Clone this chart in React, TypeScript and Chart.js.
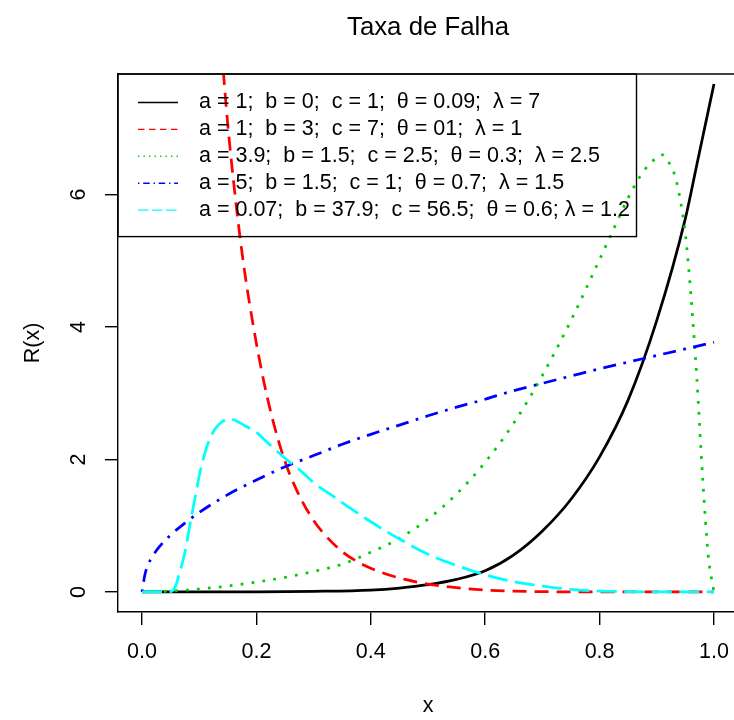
import React, { useEffect, useRef } from "react";
import { Chart, registerables } from "chart.js";

Chart.register(...registerables);

// ---- text ----
const TITLE = "Taxa de Falha";
const X_LABEL = "x";
const Y_LABEL = "R(x)";

const xTicks = [0, 0.2, 0.4, 0.6, 0.8, 1.0];
const xTickLabels = ["0.0", "0.2", "0.4", "0.6", "0.8", "1.0"];
const yTicks = [0, 2, 4, 6];
const yTickLabels = ["0", "2", "4", "6"];

const seriesLabels = [
  "a = 1;  b = 0;  c = 1;  θ = 0.09;  λ = 7",
  "a = 1;  b = 3;  c = 7;  θ = 01;  λ = 1",
  "a = 3.9;  b = 1.5;  c = 2.5;  θ = 0.3;  λ = 2.5",
  "a = 5;  b = 1.5;  c = 1;  θ = 0.7;  λ = 1.5",
  "a = 0.07;  b = 37.9;  c = 56.5;  θ = 0.6; λ = 1.2",
];

// ---- hazard curves R(x) ----
const xBlack = [0, 0.1, 0.2, 0.3, 0.4, 0.45, 0.5, 0.55, 0.6, 0.65, 0.7, 0.75, 0.8, 0.85, 0.9, 0.95, 0.97, 1.0];
const yBlack = [0, 0, 0.002, 0.01, 0.03, 0.06, 0.11, 0.19, 0.32, 0.56, 0.92, 1.4, 2.04, 2.9, 4.1, 5.64, 6.45, 7.67];

const xRed = [0.1, 0.12, 0.13, 0.14, 0.15, 0.16, 0.17, 0.18, 0.19, 0.2, 0.21, 0.22, 0.23, 0.24, 0.25, 0.26, 0.28, 0.3, 0.32, 0.35, 0.38, 0.42, 0.46, 0.5, 0.55, 0.6, 0.65, 0.7, 0.8, 0.9, 1.0];
const yRed = [14.5, 10.7, 9.3, 8.1, 7.05, 6.2, 5.45, 4.8, 4.25, 3.75, 3.3, 2.9, 2.55, 2.24, 1.97, 1.74, 1.37, 1.08, 0.86, 0.61, 0.44, 0.29, 0.19, 0.12, 0.065, 0.03, 0.013, 0.005, 0.001, 0, 0];

const xGreen = [0, 0.05, 0.1, 0.15, 0.2, 0.25, 0.3, 0.35, 0.4, 0.45, 0.5, 0.55, 0.6, 0.65, 0.7, 0.75, 0.8, 0.825, 0.85, 0.875, 0.9, 0.91, 0.92, 0.93, 0.94, 0.95, 0.96, 0.97, 0.98, 0.99, 1.0];
const yGreen = [0, 0.015, 0.045, 0.09, 0.15, 0.22, 0.31, 0.42, 0.6, 0.81, 1.1, 1.48, 1.96, 2.55, 3.27, 4.1, 5.02, 5.49, 5.95, 6.33, 6.56, 6.6, 6.5, 6.33, 5.97, 5.4, 4.44, 3.23, 1.75, 0.55, 0];

const xBlue = [0, 0.005, 0.01, 0.02, 0.03, 0.05, 0.075, 0.1, 0.15, 0.2, 0.25, 0.3, 0.35, 0.4, 0.45, 0.5, 0.55, 0.6, 0.65, 0.7, 0.75, 0.8, 0.85, 0.9, 0.95, 1.0];
const yBlue = [0, 0.26, 0.4, 0.56, 0.68, 0.86, 1.04, 1.2, 1.47, 1.69, 1.89, 2.06, 2.23, 2.38, 2.52, 2.66, 2.79, 2.91, 3.04, 3.15, 3.26, 3.37, 3.47, 3.57, 3.67, 3.77];

const xCyan = [0, 0.02, 0.04, 0.05, 0.055, 0.06, 0.065, 0.07, 0.075, 0.08, 0.085, 0.09, 0.095, 0.1, 0.11, 0.12, 0.13, 0.14, 0.15, 0.16, 0.17, 0.18, 0.2, 0.22, 0.25, 0.28, 0.3, 0.33, 0.36, 0.4, 0.45, 0.5, 0.55, 0.6, 0.65, 0.7, 0.75, 0.8, 0.85, 0.9, 1.0];
const yCyan = [0, 0, 0, 0.005, 0.03, 0.12, 0.27, 0.42, 0.6, 0.83, 1.07, 1.3, 1.52, 1.75, 2.1, 2.34, 2.49, 2.57, 2.61, 2.6, 2.56, 2.51, 2.41, 2.25, 2.02, 1.81, 1.65, 1.47, 1.29, 1.06, 0.8, 0.57, 0.4, 0.26, 0.155, 0.09, 0.04, 0.015, 0.005, 0, 0];

const seriesX = [xBlack, xRed, xGreen, xBlue, xCyan];
const seriesY = [yBlack, yRed, yGreen, yBlue, yCyan];

// ---- styling ----
const COLORS = ["#000000", "#FF0000", "#00CD00", "#0000FF", "#00FFFF"];
const LINE_W = 2.75;
const KEY_W = 1.4;
// solid, dashed, dotted, dot-dash, long dash (visible on/off lengths in px)
const PLOT_DASH: number[][] = [[], [14, 8], [2.75, 8.25], [2.75, 7.5, 13, 7.5], [20, 7.5]];
const KEY_DASH: number[][] = [[], [6.5, 4.5], [1.4, 4.1], [1.4, 3.8, 6.5, 3.8], [10.5, 3.5]];

const FONT = '"Liberation Sans", Arial, Helvetica, sans-serif';
const BASE_PX = 21.5;
const FRAME_W = 1.4;

const annotate = {
  id: "annotate",
  afterDraw(chart: any) {
    const { ctx, chartArea, scales } = chart;
    const xs = scales.x;
    const ys = scales.y;
    ctx.save();
    ctx.fillStyle = "#000";
    ctx.strokeStyle = "#000";

    // top edge of the plot frame
    ctx.lineWidth = FRAME_W;
    ctx.setLineDash([]);
    ctx.beginPath();
    ctx.moveTo(chartArea.left, chartArea.top);
    ctx.lineTo(chartArea.right, chartArea.top);
    ctx.stroke();

    const midX = xs.getPixelForValue(0.5);

    // title
    ctx.font = `${BASE_PX * 1.2}px ${FONT}`;
    ctx.textAlign = "center";
    ctx.textBaseline = "middle";
    ctx.fillText(TITLE, midX, 28);

    // axis tick labels
    ctx.font = `${BASE_PX}px ${FONT}`;
    xTicks.forEach((v, i) => {
      ctx.fillText(xTickLabels[i], xs.getPixelForValue(v), 652);
    });
    yTicks.forEach((v, i) => {
      ctx.save();
      ctx.translate(79, ys.getPixelForValue(v));
      ctx.rotate(-Math.PI / 2);
      ctx.fillText(yTickLabels[i], 0, 0);
      ctx.restore();
    });

    // axis titles
    ctx.fillText(X_LABEL, midX, 706);
    ctx.save();
    ctx.translate(33, (chartArea.top + chartArea.bottom) / 2);
    ctx.rotate(-Math.PI / 2);
    ctx.fillText(Y_LABEL, 0, 0);
    ctx.restore();

    // key box in the top-left corner of the plot
    const keyLeft = chartArea.left;
    const keyTop = chartArea.top;
    const lineX0 = keyLeft + 20;
    const lineX1 = keyLeft + 60;
    const textX = keyLeft + 81;
    const row0 = keyTop + 28.5;
    const rowGap = 26.9;
    const keyRight = keyLeft + 518.5;
    const keyBottom = row0 + rowGap * (seriesLabels.length - 1) + 26.5;
    ctx.lineWidth = FRAME_W;
    ctx.strokeRect(keyLeft, keyTop, keyRight - keyLeft, keyBottom - keyTop);

    ctx.textAlign = "left";
    seriesLabels.forEach((t, i) => {
      const y = row0 + rowGap * i;
      ctx.strokeStyle = COLORS[i];
      ctx.lineWidth = KEY_W;
      ctx.setLineDash(KEY_DASH[i]);
      ctx.beginPath();
      ctx.moveTo(lineX0, y);
      ctx.lineTo(lineX1, y);
      ctx.stroke();
      ctx.setLineDash([]);
      ctx.fillStyle = "#000";
      ctx.fillText(t, textX, y);
    });
    ctx.restore();
  },
};

export default function App() {
  const canvasRef = useRef<HTMLCanvasElement | null>(null);

  useEffect(() => {
    const canvas = canvasRef.current;
    if (!canvas) return;

    const datasets = seriesX.map((xv, i) => ({
      label: seriesLabels[i],
      data: xv.map((x, j) => ({ x, y: seriesY[i][j] })),
      borderColor: COLORS[i],
      backgroundColor: COLORS[i],
      borderWidth: LINE_W,
      borderDash: PLOT_DASH[i],
      borderCapStyle: "butt" as const,
      borderJoinStyle: "round" as const,
      pointRadius: 0,
      pointHoverRadius: 0,
      fill: false,
      cubicInterpolationMode: "monotone" as const,
      order: seriesX.length - i,
    }));

    const chart = new Chart(canvas, {
      type: "line",
      data: { datasets },
      options: {
        responsive: false,
        maintainAspectRatio: false,
        animation: false,
        events: [],
        layout: { padding: { top: 74, left: 0, right: 0, bottom: 0 } },
        plugins: {
          legend: { display: false },
          tooltip: { enabled: false },
          title: { display: false },
        },
        scales: {
          x: {
            type: "linear",
            min: -0.042,
            max: 1.035,
            afterBuildTicks: (s: any) => {
              s.ticks = xTicks.map((v) => ({ value: v }));
            },
            afterFit: (s: any) => {
              s.height = 108;
            },
            ticks: { display: false },
            grid: {
              display: true,
              drawOnChartArea: false,
              drawTicks: true,
              tickLength: 13,
              color: "#000",
              lineWidth: FRAME_W,
            },
            border: { display: true, color: "#000", width: FRAME_W },
          },
          y: {
            type: "linear",
            min: -0.302,
            max: 7.82,
            afterBuildTicks: (s: any) => {
              s.ticks = yTicks.map((v) => ({ value: v }));
            },
            afterFit: (s: any) => {
              s.width = 118;
            },
            ticks: { display: false },
            grid: {
              display: true,
              drawOnChartArea: false,
              drawTicks: true,
              tickLength: 13,
              color: "#000",
              lineWidth: FRAME_W,
            },
            border: { display: true, color: "#000", width: FRAME_W },
          },
        },
      },
      plugins: [annotate],
    });

    return () => chart.destroy();
  }, []);

  return (
    <div
      style={{
        position: "fixed",
        left: 0,
        top: 0,
        width: 734,
        height: 720,
        background: "#ffffff",
        overflow: "hidden",
      }}
    >
      <canvas ref={canvasRef} width={734} height={720} style={{ display: "block" }} />
    </div>
  );
}
